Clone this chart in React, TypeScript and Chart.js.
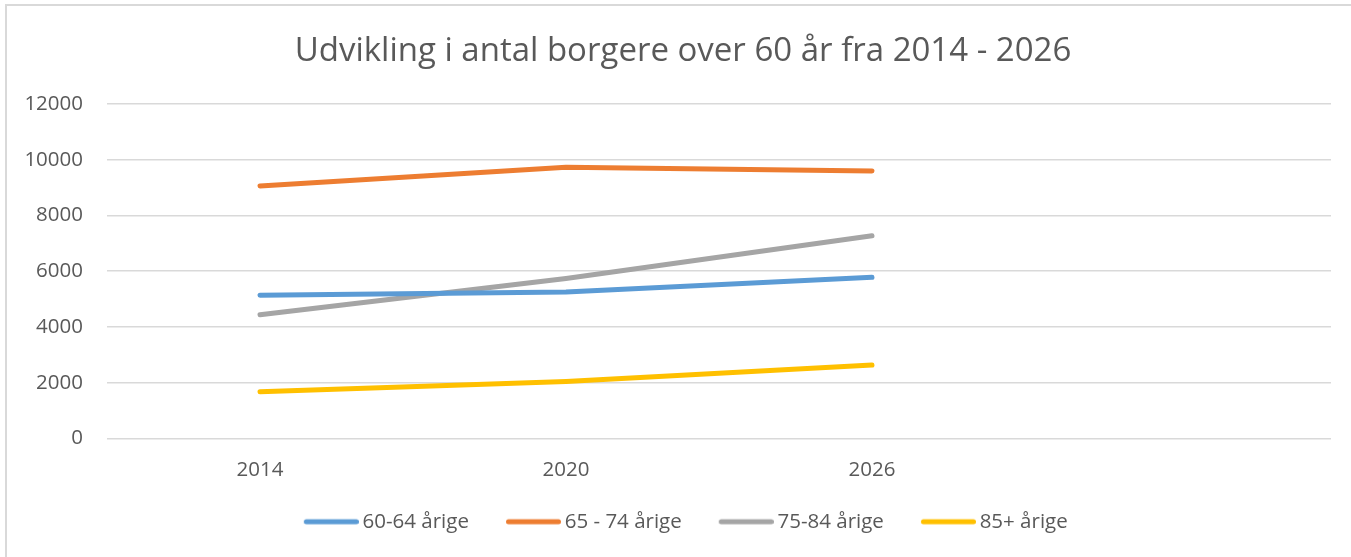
import React, { useEffect, useRef } from "react";
import { Chart, registerables } from "chart.js";

Chart.register(...registerables);

const titleText = "Udvikling i antal borgere over 60 år fra 2014 - 2026";
const categories = ["2014", "2020", "2026", ""];
const seriesNames = ["60-64 årige", "65 - 74 årige", "75-84 årige", "85+ årige"];
const values6064 = [5140, 5250, 5780];
const values6574 = [9060, 9730, 9600];
const values7584 = [4440, 5740, 7270];
const values85 = [1670, 2040, 2630];
const seriesColors = ["#5B9BD5", "#ED7D31", "#A5A5A5", "#FFC000"];
const yMin = 0;
const yMax = 12000;
const yStep = 2000;

const FONT = "'Open Sans', 'DejaVu Sans', sans-serif";
const TEXT = "#595959";
const GRID = "#D9D9D9";

function makeSwatch(color: string): HTMLCanvasElement {
  const c = document.createElement("canvas");
  const w = 68;
  c.width = w;
  c.height = 8;
  const g = c.getContext("2d")!;
  g.strokeStyle = color;
  g.lineWidth = 5;
  g.lineCap = "round";
  g.beginPath();
  g.moveTo(w - 55 + 2.5, 4);
  g.lineTo(w - 2.5, 4);
  g.stroke();
  return c;
}

const shiftBlocks = {
  id: "shiftBlocks",
  afterLayout(chart: any) {
    const t = chart.titleBlock;
    if (t) {
      t.left += 5.5;
      t.right += 5.5;
    }
    const l = chart.legend;
    if (l) {
      l.left += 5;
      l.right += 5;
    }
  },
};

export default function App() {
  const ref = useRef<HTMLCanvasElement | null>(null);

  useEffect(() => {
    if (!ref.current) return;
    const swatches = seriesColors.map(makeSwatch);
    const allValues = [values6064, values6574, values7584, values85];
    const chart = new Chart(ref.current, {
      type: "line",
      data: {
        labels: categories,
        datasets: seriesNames.map((name, i) => ({
          label: name,
          data: allValues[i],
          borderColor: seriesColors[i],
          backgroundColor: seriesColors[i],
          borderWidth: 5,
          borderCapStyle: "round" as const,
          borderJoinStyle: "round" as const,
          pointRadius: 0,
          pointHoverRadius: 0,
          tension: 0,
          fill: false,
        })),
      },
      plugins: [shiftBlocks],
      options: {
        responsive: false,
        animation: false,
        layout: { padding: { left: 17, right: 36, top: 0, bottom: 19 } },
        plugins: {
          title: {
            display: true,
            text: titleText,
            color: TEXT,
            font: { family: FONT, size: 33, weight: "normal" as const },
            padding: { top: 25.6, bottom: 32.8 },
          },
          legend: {
            display: true,
            position: "bottom",
            labels: {
              usePointStyle: true,
              pointStyleWidth: 55,
              padding: 30.5,
              color: TEXT,
              font: { family: FONT, size: 20.5 },
              generateLabels: (ch: any) =>
                Chart.defaults.plugins.legend.labels
                  .generateLabels(ch)
                  .map((l: any, i: number) => ({ ...l, pointStyle: swatches[i] })),
            },
          },
          tooltip: { enabled: false },
        },
        scales: {
          x: {
            offset: true,
            grid: { display: false, drawTicks: false },
            border: { display: false },
            ticks: {
              color: TEXT,
              font: { family: FONT, size: 20.5 },
              padding: 19,
              maxRotation: 0,
              autoSkip: false,
            },
            afterFit: (s: any) => {
              s.height = 42.6;
            },
          },
          y: {
            min: yMin,
            max: yMax,
            grid: { color: GRID, lineWidth: 1.5, drawTicks: false },
            border: { display: false },
            ticks: {
              stepSize: yStep,
              color: TEXT,
              font: { family: FONT, size: 20.5 },
              padding: 24,
              callback: (v: any) => String(v),
            },
            afterFit: (s: any) => {
              s.width = 83;
            },
          },
        },
      },
    });
    return () => chart.destroy();
  }, []);

  return (
    <div
      style={{
        position: "fixed",
        left: 0,
        top: 0,
        width: 1351,
        height: 557,
        overflow: "hidden",
        background: "#fff",
      }}
    >
      <div
        style={{
          position: "absolute",
          left: 5,
          top: 4,
          borderLeft: "2px solid #D9D9D9",
          borderTop: "2px solid #D9D9D9",
          width: 1360,
          height: 555,
        }}
      >
        <canvas ref={ref} width={1360} height={555} style={{ display: "block" }} />
      </div>
    </div>
  );
}
